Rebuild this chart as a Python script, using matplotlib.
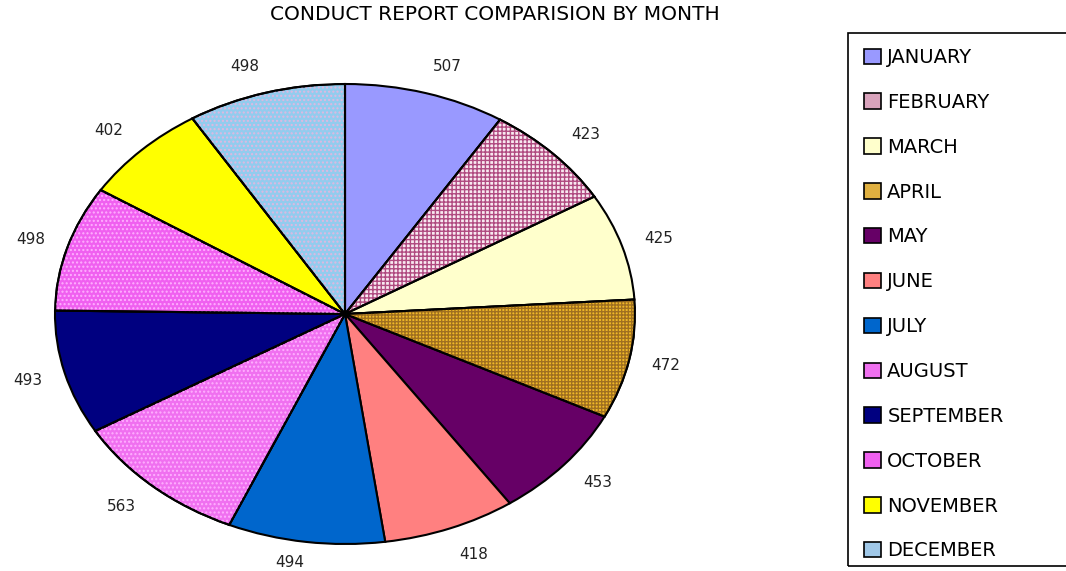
import matplotlib
matplotlib.use("Agg")
import numpy as np
import matplotlib.pyplot as plt
from matplotlib.patches import Wedge, Patch, Rectangle

months = ["JANUARY", "FEBRUARY", "MARCH", "APRIL", "MAY", "JUNE", "JULY",
          "AUGUST", "SEPTEMBER", "OCTOBER", "NOVEMBER", "DECEMBER"]
reports = [507, 423, 425, 472, 453, 418, 494, 563, 493, 498, 402, 498]

# base fill, hatch pattern (None = plain), hatch colour, legend swatch colour
fills = ["#9999FF", "#F8E8F0", "#FFFFCC", "#F0B828", "#660066", "#FF8080",
         "#0066CC", "#F070F0", "#000080", "#F060F0", "#FFFF00", "#92CCEE"]
hatches = [None, "++++", None, "+++++", None, None,
           None, "....", None, "....", None, "...."]
hatch_cols = [None, "#B04A80", None, "#A07020", None, None,
              None, "#FFB0FF", None, "#FFB0FF", None, "#E0B8E0"]
swatch = ["#9999FF", "#D9A3BC", "#FFFFCC", "#E0B040", "#660066", "#FF8080",
          "#0066CC", "#F070F0", "#000080", "#F060F0", "#FFFF00", "#A0C8E8"]

plt.rcParams["font.family"] = ["DejaVu Sans"]

fig = plt.figure(figsize=(10.66, 5.71), dpi=100)
ax = fig.add_axes([55 / 1066, 27 / 571, 580 / 1066, 460 / 571])

wedges, texts = ax.pie(reports, colors=fills, startangle=90, counterclock=False,
                       labels=[str(v) for v in reports], labeldistance=1.12,
                       wedgeprops=dict(edgecolor="black", linewidth=1.5),
                       textprops=dict(ha="center", va="center", fontsize=11,
                                      color="#222222"))

# nudge labels sideways near top/bottom, keep bottom label inside the figure
for w, t in zip(wedges, texts):
    mid = np.deg2rad((w.theta1 + w.theta2) / 2)
    x, y = t.get_position()
    x += 0.041 * np.sign(np.cos(mid)) * abs(np.sin(mid))
    y = max(y, -1.08)
    t.set_position((x, y))

for w, h, hc in zip(wedges, hatches, hatch_cols):
    if h is None:
        continue
    ax.add_patch(Wedge(w.center, w.r, w.theta1, w.theta2, facecolor="none",
                       edgecolor=hc, hatch=h, linewidth=0, zorder=1.5))
    ax.add_patch(Wedge(w.center, w.r, w.theta1, w.theta2, facecolor="none",
                       edgecolor="black", linewidth=1.5, zorder=2))

ax.set_aspect("auto")
ax.set_xlim(-1, 1)
ax.set_ylim(-1, 1)
ax.axis("off")

fig.text(495 / 1066, 1 - 15 / 571, "CONDUCT REPORT COMPARISION BY MONTH",
         ha="center", va="center", fontsize=14.5)

fig.patches.append(Rectangle((848 / 1066, 5 / 571), 0.3, 533 / 571,
                             transform=fig.transFigure, facecolor="none",
                             edgecolor="black", linewidth=1.2))

handles = [Patch(facecolor=c, edgecolor="black", linewidth=1.2) for c in swatch]
fig.legend(handles, months, loc="upper left",
           bbox_to_anchor=(864 / 1066, 1 - 48 / 571), frameon=False,
           fontsize=14, handlelength=0.85, handleheight=0.85,
           handletextpad=0.35, labelspacing=1.33, borderpad=0, borderaxespad=0)

fig.savefig("out.png", dpi=100)
